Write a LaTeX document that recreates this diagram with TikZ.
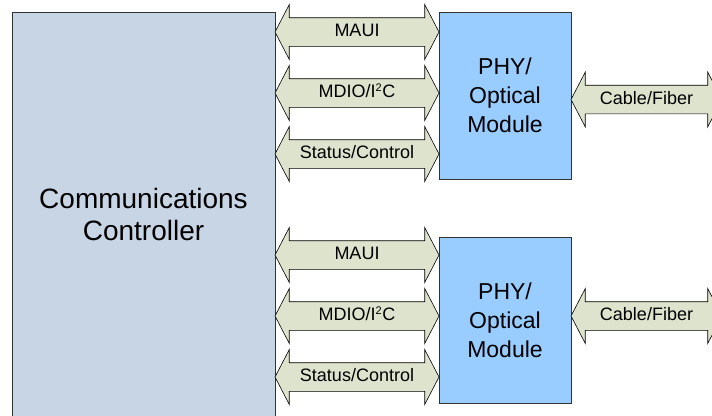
\documentclass[tikz,border=0pt]{standalone}
\usepackage{fontspec}
\setmainfont{Liberation Sans}
\usetikzlibrary{shapes.arrows}
\definecolor{ctrlfill}{HTML}{C8D5E5}
\definecolor{phyfill}{HTML}{99CCFF}
\definecolor{busfill}{HTML}{DDE3CC}
\tikzset{
  ctrlbox/.style={draw=black!80, fill=ctrlfill, line width=0.8pt, anchor=north west,
    minimum width=263pt, minimum height=404pt, align=center, font=\fontsize{28}{32}\selectfont, outer sep=0pt},
  phybox/.style={draw=black!80, fill=phyfill, line width=0.8pt, anchor=north west,
    minimum width=132pt, align=center, font=\fontsize{23}{29}\selectfont, outer sep=0pt},
  bus/.style={double arrow, draw=black, fill=busfill, line width=0.6pt,
    double arrow head extend=13pt, double arrow tip angle=125,
    text height=13pt, text depth=4pt, inner ysep=5.5pt, inner xsep=0pt, outer sep=0pt,
    font=\fontsize{18}{20}\selectfont}
}
\def\iic{MDIO/I\textsuperscript{\fontsize{11}{11}\selectfont 2}C}
\begin{document}
\begin{tikzpicture}[x=1pt,y=-1pt]
  \useasboundingbox (0,0) rectangle (712,415);
  \clip (0,0) rectangle (712,415);
  \node[ctrlbox] (cc) at (12,12) {Communications\\Controller};
  \node[phybox, minimum height=167pt] (phyA) at (439,12) {PHY/\\Optical\\Module};
  \node[phybox, minimum height=166pt] (phyB) at (439,237) {PHY/\\Optical\\Module};
  % upper module
  \node[bus, minimum height=164pt] (mauiA) at (357,32) {MAUI};
  \node[bus, minimum height=164pt] (mdioA) at (357,93) {\iic};
  \node[bus, minimum height=164pt] (statA) at (357,154) {Status/Control};
  \node[bus, minimum height=151pt] (cabA) at (646.5,99.5) {Cable/Fiber};
  % lower module
  \node[bus, minimum height=164pt] (mauiB) at (357,255) {MAUI};
  \node[bus, minimum height=164pt] (mdioB) at (357,316) {\iic};
  \node[bus, minimum height=164pt] (statB) at (357,377) {Status/Control};
  \node[bus, minimum height=151pt] (cabB) at (646.5,316) {Cable/Fiber};
\end{tikzpicture}
\end{document}
